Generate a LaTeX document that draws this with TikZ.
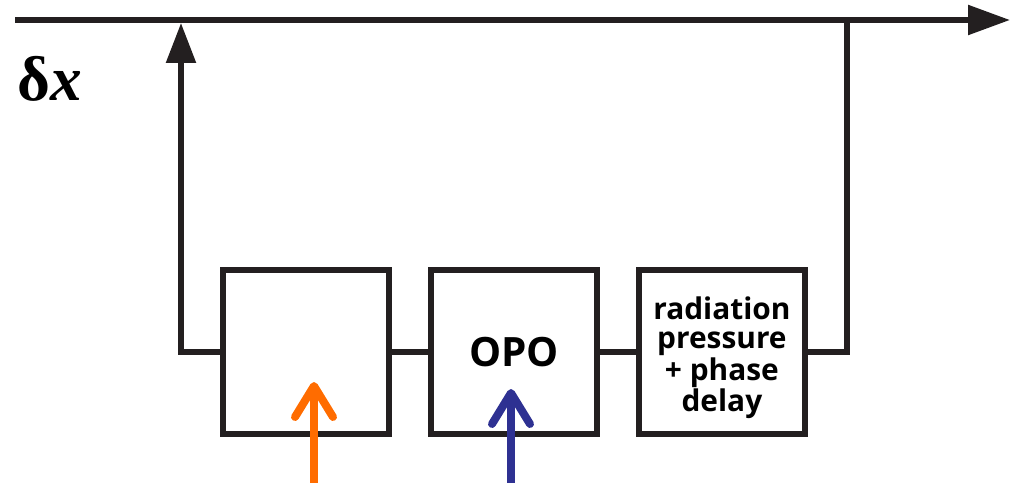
\documentclass[tikz,border=0pt]{standalone}
\usepackage{fontspec}
\setmainfont{Liberation Serif}
\newfontfamily\boxfont{Open Sans}[Ligatures=NoCommon]
\usetikzlibrary{arrows.meta,positioning}
\definecolor{lineblack}{HTML}{231F20}
\definecolor{pumporange}{HTML}{FF6C00}
\definecolor{pumpblue}{HTML}{2E3192}

\begin{document}
\begin{tikzpicture}[x=0.02cm,y=-0.02cm,node distance=0.72cm,
    blockbox/.style={draw=lineblack,line width=0.12cm,minimum width=3.32cm,minimum height=3.3cm,inner sep=2pt,align=center},
    wire/.style={draw=lineblack,line width=0.11cm},
    pumparrow/.style={line width=0.16cm,-{Straight Barb[length=0.62cm,width=0.76cm,round]}}]
  \useasboundingbox (0,0) rectangle (1021,483);

  % feedback blocks
  \node[blockbox] (filt) at (306,352) {};
  \node[blockbox,right=of filt,font=\boxfont\bfseries\fontsize{23}{23}\selectfont] (opo) {OPO};
  \node[blockbox,right=of opo] (rad) {};
  \node[align=center,inner sep=0pt,yshift=-0.12cm,font=\boxfont\bfseries\fontsize{17}{16.6}\selectfont] (radtext) at (rad)
    {radiation\\pressure\\+ phase\\delay};

  % signal line
  \coordinate (sigin) at (15,20);
  \coordinate (sigout) at (1010,20);
  \draw[wire,-{Triangle[length=0.84cm,width=0.58cm]}] (sigin) -- (sigout);
  \node[anchor=base west,inner sep=0pt,font=\fontsize{36}{36}\selectfont\bfseries] (dx) at (17,101) {δ\textit{x}};

  % loop wiring
  \coordinate (tapL) at (181,23);
  \coordinate (tapR) at (847,20);
  \draw[wire,-{Triangle[length=0.8cm,width=0.58cm]}] (filt.west) -| (tapL);
  \draw[wire] (filt) -- (opo);
  \draw[wire] (opo) -- (rad);
  \draw[wire] (rad.east) -| (tapR);

  % pump inputs
  \coordinate (pumpA) at (314,483);
  \coordinate (pumpAtip) at (314,382);
  \coordinate (pumpB) at (511,483);
  \coordinate (pumpBtip) at (511,389);
  \draw[pumparrow,pumporange] (pumpA) -- (pumpAtip);
  \draw[pumparrow,pumpblue] (pumpB) -- (pumpBtip);
\end{tikzpicture}
\end{document}
